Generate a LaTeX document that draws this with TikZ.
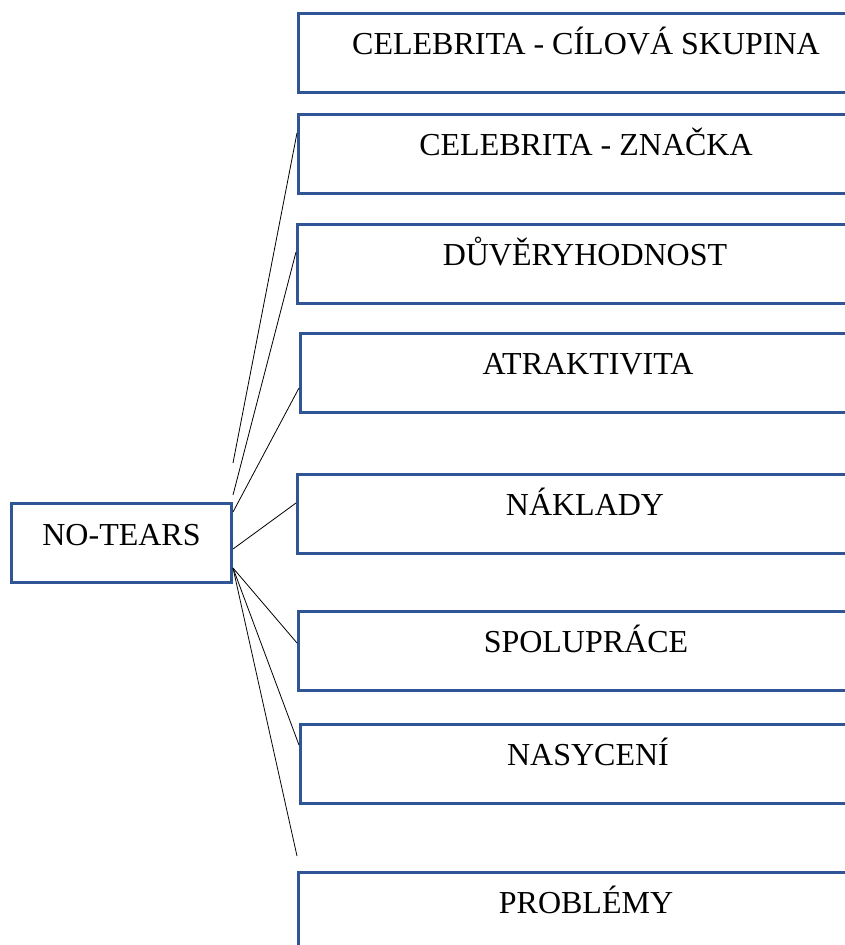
\documentclass[tikz,border=0pt]{standalone}
\usepackage{fontspec}
\setmainfont{Liberation Serif}
\usepackage{xcolor}
\usetikzlibrary{positioning,calc}
\definecolor{boxblue}{HTML}{2F5597}
\definecolor{ink}{HTML}{000000}
\tikzset{
  factorbox/.style={
    draw=boxblue, line width=3pt, anchor=north west,
    minimum width=575pt, inner sep=0pt,
    text height=41pt, text depth=38pt,
    font=\fontsize{32}{38}\selectfont
  },
  brandbox/.style={
    factorbox, minimum width=220pt, text height=42pt, text depth=37pt
  },
  spoke/.style={draw=ink, line width=0.8pt}
}
\begin{document}
\begin{tikzpicture}[x=1pt,y=-1pt]
  \path[use as bounding box,clip] (0,0) rectangle (845,945);
  % brand on the left
  \node[brandbox] (notears) at (10,502) {NO-TEARS};
  % factors on the right
  \node[factorbox] (cilova) at (297,12) {CELEBRITA - CÍLOVÁ SKUPINA};
  \node[factorbox] (znacka) at (297,113) {CELEBRITA - ZNAČKA};
  \node[factorbox] (duvera) at (296,223) {DŮVĚRYHODNOST};
  \node[factorbox] (atrakt) at (299,332) {ATRAKTIVITA};
  \node[factorbox] (naklady) at (296,473) {NÁKLADY};
  \node[factorbox] (spoluprace) at (297,610) {SPOLUPRÁCE};
  \node[factorbox] (nasyceni) at (299,723) {NASYCENÍ};
  \node[factorbox] (problemy) at (297,871) {PROBLÉMY};
  % spokes
  \draw[spoke] ([yshift=39pt]notears.north east) -- ([yshift=-20pt]znacka.north west);
  \draw[spoke] ([yshift=7pt]notears.north east) -- ([yshift=-29pt]duvera.north west);
  \draw[spoke] ([yshift=-10pt]notears.north east) -- ([yshift=-56pt]atrakt.north west);
  \draw[spoke] ([yshift=-47pt]notears.north east) -- ([yshift=-30pt]naklady.north west);
  \draw[spoke] ([yshift=-66pt]notears.north east) -- ([yshift=-33pt]spoluprace.north west);
  \draw[spoke] ([yshift=-66pt]notears.north east) -- ([yshift=-22pt]nasyceni.north west);
  \draw[spoke] ([yshift=-66pt]notears.north east) -- ([yshift=15pt]problemy.north west);
\end{tikzpicture}
\end{document}
